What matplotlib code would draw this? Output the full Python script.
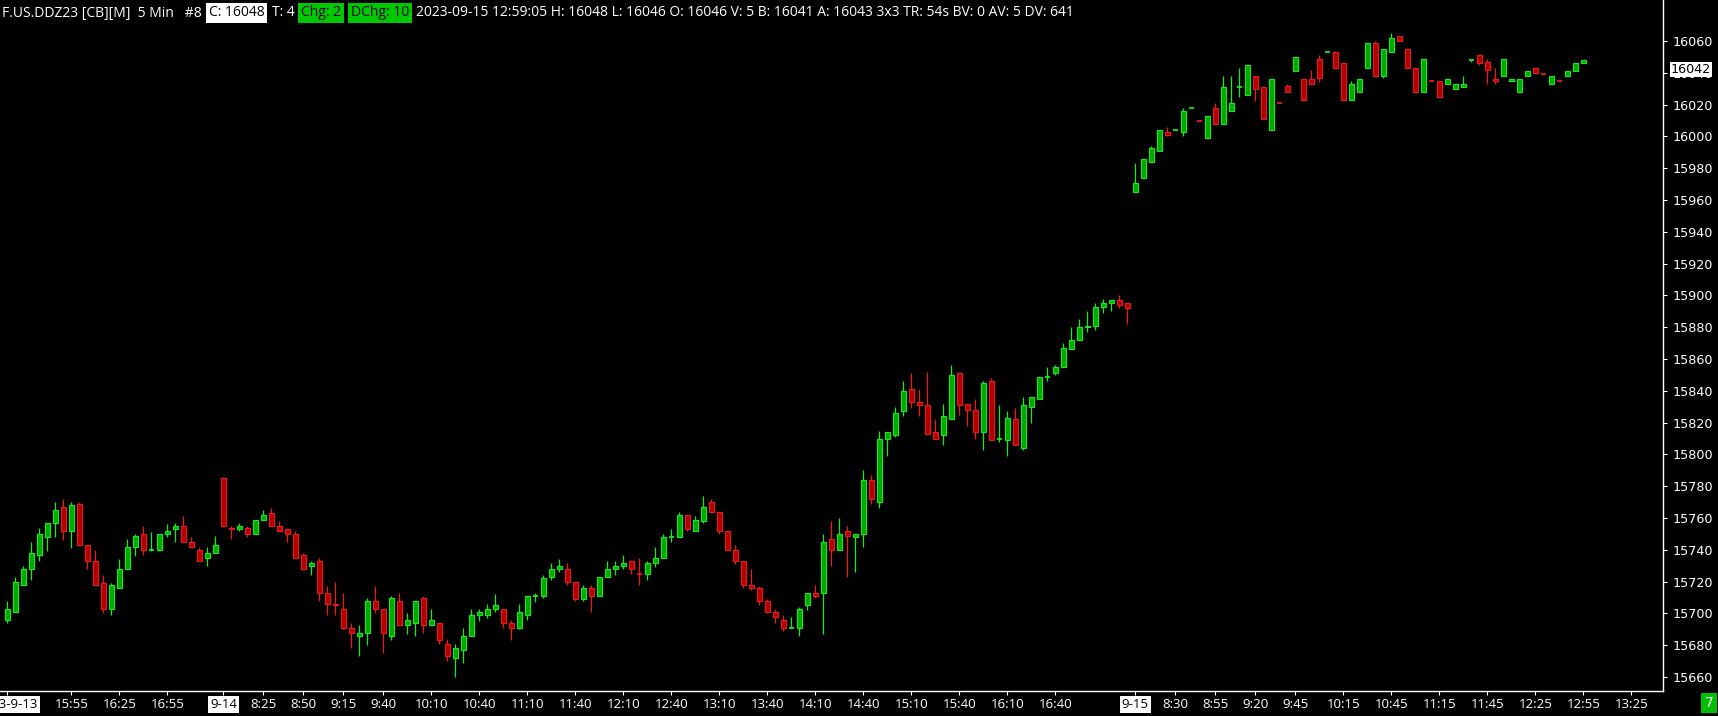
import numpy as np
import matplotlib.pyplot as plt
from matplotlib.transforms import blended_transform_factory

# 5 minute bars of F.US.DDZ23, left to right (3 sessions)
opens = [15696, 15701, 15718, 15728, 15737, 15748, 15757, 15767, 15752, 15769,
         15743, 15733, 15719, 15703, 15716, 15728, 15742, 15750, 15740, 15740,
         15750, 15753, 15755, 15745, 15740, 15735, 15738,
         15785, 15754, 15753, 15754, 15750, 15759, 15763, 15755, 15753, 15750,
         15737, 15730, 15733, 15713, 15706, 15703, 15691, 15686, 15688, 15708,
         15703, 15686, 15708, 15693, 15694, 15710, 15693, 15694, 15681, 15672,
         15677, 15686, 15699, 15699, 15703, 15703, 15694, 15691, 15699, 15711,
         15711, 15723, 15728, 15728, 15720, 15709, 15716, 15711, 15723, 15728,
         15730, 15733, 15725, 15725, 15732, 15735, 15748, 15748, 15762, 15752,
         15758, 15770, 15764, 15752, 15740, 15733, 15718, 15716, 15708, 15701,
         15696, 15691, 15691, 15705, 15713, 15713, 15747, 15740, 15752, 15748,
         15750, 15784, 15770, 15810, 15812, 15827, 15841, 15833, 15831, 15814,
         15812, 15822, 15851, 15832, 15828, 15814, 15846, 15810, 15809, 15822,
         15804, 15830, 15835, 15849, 15851, 15855, 15866, 15872, 15880, 15881,
         15893, 15895, 15897, 15895,
         15965, 15974, 15984, 15991, 16003, 16004, 16003, 16018, 16010, 15999,
         16018, 16008, 16016, 16031, 16026, 16038, 16031, 16004, 16021, 16032,
         16041, 16036, 16036, 16049, 16053, 16053, 16046, 16023, 16028, 16043,
         16059, 16038, 16053, 16063, 16055, 16043, 16028, 16035, 16035, 16033,
         16030, 16031, 16048, 16051, 16047, 16036, 16038, 16035, 16028, 16038,
         16043, 16039, 16033, 16035, 16038, 16041, 16046]
highs = [15708, 15723, 15730, 15745, 15754, 15757, 15770, 15772, 15770, 15770,
         15743, 15740, 15724, 15719, 15734, 15747, 15750, 15755, 15751, 15750,
         15756, 15757, 15761, 15748, 15742, 15742, 15749,
         15786, 15755, 15757, 15755, 15759, 15765, 15766, 15758, 15753, 15752,
         15738, 15733, 15735, 15717, 15720, 15713, 15694, 15693, 15710, 15717,
         15703, 15711, 15713, 15700, 15708, 15711, 15703, 15694, 15684, 15681,
         15691, 15703, 15703, 15706, 15712, 15703, 15696, 15706, 15711, 15713,
         15724, 15732, 15734, 15732, 15720, 15718, 15718, 15723, 15733, 15733,
         15737, 15733, 15735, 15733, 15742, 15750, 15753, 15764, 15762, 15761,
         15774, 15772, 15764, 15752, 15743, 15733, 15728, 15717, 15709, 15703,
         15699, 15698, 15704, 15713, 15718, 15750, 15758, 15760, 15755, 15750,
         15790, 15787, 15815, 15814, 15830, 15846, 15851, 15841, 15852, 15822,
         15832, 15856, 15851, 15832, 15835, 15846, 15848, 15831, 15827, 15829,
         15836, 15836, 15849, 15855, 15856, 15870, 15880, 15885, 15890, 15895,
         15898, 15897, 15900, 15895,
         15983, 15986, 15994, 16004, 16006, 16004, 16018, 16018, 16010, 16013,
         16021, 16038, 16038, 16043, 16045, 16038, 16031, 16036, 16021, 16033,
         16050, 16036, 16042, 16051, 16053, 16054, 16046, 16035, 16036, 16059,
         16060, 16055, 16065, 16063, 16055, 16043, 16049, 16035, 16035, 16036,
         16033, 16038, 16048, 16051, 16049, 16043, 16049, 16036, 16036, 16041,
         16043, 16039, 16038, 16035, 16041, 16046, 16048]
lows = [15694, 15701, 15718, 15721, 15733, 15739, 15748, 15746, 15741, 15743,
        15728, 15718, 15700, 15699, 15716, 15728, 15736, 15737, 15739, 15739,
        15748, 15745, 15745, 15742, 15733, 15730, 15738,
        15755, 15747, 15752, 15748, 15750, 15759, 15755, 15752, 15745, 15735,
        15727, 15724, 15708, 15699, 15699, 15690, 15678, 15673, 15680, 15700,
        15675, 15683, 15693, 15687, 15686, 15688, 15693, 15681, 15670, 15660,
        15669, 15686, 15695, 15697, 15701, 15691, 15683, 15690, 15696, 15707,
        15710, 15721, 15726, 15718, 15708, 15708, 15701, 15711, 15723, 15724,
        15728, 15725, 15718, 15721, 15729, 15735, 15745, 15748, 15752, 15752,
        15757, 15764, 15750, 15740, 15731, 15716, 15715, 15705, 15700, 15694,
        15689, 15691, 15686, 15702, 15710, 15687, 15730, 15740, 15723, 15726,
        15742, 15769, 15766, 15799, 15811, 15824, 15829, 15824, 15813, 15810,
        15806, 15822, 15825, 15818, 15810, 15803, 15809, 15808, 15799, 15806,
        15803, 15820, 15835, 15846, 15850, 15855, 15866, 15872, 15877, 15878,
        15889, 15890, 15892, 15882,
        15965, 15974, 15984, 15991, 16000, 16004, 16000, 16018, 16010, 15999,
        16008, 16008, 16016, 16025, 16026, 16022, 16011, 16004, 16021, 16028,
        16041, 16023, 16033, 16034, 16053, 16043, 16023, 16023, 16028, 16043,
        16038, 16037, 16053, 16060, 16043, 16028, 16028, 16035, 16025, 16033,
        16030, 16031, 16047, 16045, 16033, 16033, 16038, 16035, 16028, 16038,
        16040, 16039, 16033, 16035, 16038, 16041, 16046]
closes = [15703, 15720, 15728, 15738, 15750, 15757, 15765, 15752, 15768, 15743,
          15733, 15718, 15703, 15718, 15728, 15742, 15749, 15740, 15740, 15750,
          15752, 15755, 15745, 15742, 15733, 15738, 15743,
          15755, 15753, 15755, 15750, 15759, 15762, 15755, 15752, 15750, 15735,
          15728, 15732, 15713, 15706, 15705, 15691, 15688, 15688, 15708, 15703,
          15688, 15710, 15693, 15696, 15708, 15693, 15696, 15683, 15673, 15678,
          15686, 15699, 15701, 15703, 15705, 15694, 15691, 15701, 15711, 15711,
          15722, 15728, 15730, 15720, 15709, 15716, 15711, 15723, 15728, 15730,
          15732, 15728, 15725, 15732, 15735, 15748, 15748, 15762, 15753, 15759,
          15767, 15764, 15752, 15740, 15733, 15718, 15716, 15708, 15701, 15698,
          15691, 15691, 15703, 15713, 15711, 15745, 15740, 15750, 15749, 15750,
          15784, 15772, 15810, 15814, 15826, 15840, 15833, 15831, 15813, 15810,
          15824, 15850, 15831, 15828, 15814, 15845, 15809, 15810, 15823, 15806,
          15831, 15836, 15849, 15849, 15855, 15867, 15872, 15880, 15881, 15893,
          15895, 15897, 15894, 15892,
          15971, 15986, 15993, 16004, 16001, 16004, 16016, 16018, 16010, 16013,
          16008, 16031, 16021, 16031, 16045, 16030, 16011, 16036, 16021, 16028,
          16050, 16023, 16033, 16037, 16053, 16043, 16023, 16033, 16036, 16059,
          16038, 16055, 16062, 16060, 16043, 16028, 16049, 16035, 16025, 16036,
          16033, 16033, 16048, 16046, 16042, 16035, 16049, 16036, 16036, 16041,
          16040, 16039, 16038, 16035, 16041, 16046, 16048]

# time axis labels, placed on bar numbers
tick_bars = [0, 8, 14, 20, 27, 32, 37, 42, 47, 53, 59, 65, 71, 77, 83, 89, 95,
             101, 107, 113, 119, 125, 131, 141, 146, 151, 156, 161, 167, 173,
             179, 185, 191, 197, 203]
tick_labels = ['2023-9-13', '15:55', '16:25', '16:55', '9-14', '8:25', '8:50',
               '9:15', '9:40', '10:10', '10:40', '11:10', '11:40', '12:10',
               '12:40', '13:10', '13:40', '14:10', '14:40', '15:10', '15:40',
               '16:10', '16:40', '9-15', '8:30', '8:55', '9:20', '9:45',
               '10:15', '10:45', '11:15', '11:45', '12:25', '12:55', '13:25']
price_ticks = list(range(15660, 16061, 20))
marker_price = 16042
bar_count_left = '7'

header = [
    ('F.US.DDZ23 [CB][M]  5 Min   #8', 'white', None),
    ('C: 16048', 'black', 'white'),
    ('T: 4', 'white', None),
    ('Chg: 2', 'black', '#00c800'),
    ('DChg: 10', 'black', '#00c800'),
    ('2023-09-15 12:59:05 H: 16048 L: 16046 O: 16046 V: 5 B: 16041 '
     'A: 16043 3x3 TR: 54s BV: 0 AV: 5 DV: 641', 'white', None),
]

W, H = 1718, 716
fig = plt.figure(figsize=(W / 100, H / 100), dpi=100, facecolor='black')
ax = fig.add_axes([0, 1 - 690.7 / H, 1663 / W, 690.7 / H], facecolor='black')

o, h, l, c = (np.array(a, dtype=float) for a in (opens, highs, lows, closes))
x = np.arange(len(o))
prev = np.r_[o[0], c[:-1]]
up = (c > o) | ((c == o) & (c >= prev))

g_edge, g_face = '#14ee14', '#00aa00'
r_edge, r_face = '#f01818', '#b00000'
edge = np.where(up, g_edge, r_edge)
face = np.where(up, g_face, r_face)

ax.vlines(x, l, h, colors=edge, lw=0.9, zorder=2)
body = c != o
ax.bar(x[body], (c - o)[body], bottom=o[body], width=0.58,
       color=face[body], edgecolor=edge[body], linewidth=0.8, zorder=3)
flat = ~body
ax.hlines(c[flat], x[flat] - 0.32, x[flat] + 0.32, colors=edge[flat],
          lw=1.3, zorder=3)

ax.set_xlim(-0.917, 206.96)
ax.set_ylim(15651.4, 16085.8)

for side in ('top', 'left'):
    ax.spines[side].set_visible(False)
for side in ('right', 'bottom'):
    ax.spines[side].set_color('white')
    ax.spines[side].set_linewidth(1)

ax.yaxis.tick_right()
ax.set_yticks(price_ticks)
ax.set_yticklabels([str(p) for p in price_ticks])
ax.tick_params(axis='y', colors='white', length=3, width=0.8, pad=4,
               labelsize=9.2, labelcolor='white')
for t in ax.get_yticklabels():
    t.set_family('DejaVu Sans')

ax.set_xticks(tick_bars)
ax.set_xticklabels(tick_labels)
ax.tick_params(axis='x', colors='white', length=3, width=0.8, pad=2.5,
               labelsize=9.5, labelcolor='white')
for t in ax.get_xticklabels():
    t.set_family('Open Sans')
    if '-' in t.get_text():
        t.set_color('black')
        t.set_bbox(dict(boxstyle='square,pad=0.15', fc='white', ec='none'))

# current price marker on the price scale
tr = blended_transform_factory(ax.transAxes, ax.transData)
ax.text(1 + 8 / 1663, marker_price, str(marker_price), transform=tr,
        ha='left', va='center', fontsize=9.2, family='DejaVu Sans',
        color='black', clip_on=False,
        bbox=dict(boxstyle='square,pad=0.08', fc='white', ec='none'))

fig.text(1 - 9 / W, 1 - 703 / H, bar_count_left, ha='center', va='center',
         fontsize=10, color='white', family='DejaVu Sans',
         bbox=dict(boxstyle='square,pad=0.25', fc='#00c000', ec='none'))

# header line, segments placed one after another
renderer = fig.canvas.get_renderer()
xpos = 2
prev_boxed = False
for text, fg, bg in header:
    if bg:
        xpos += 3
    kw = dict(fontsize=10.0, family='Open Sans', color=fg, ha='left',
              va='center')
    if bg:
        kw['bbox'] = dict(boxstyle='square,pad=0.2', fc=bg, ec='none')
    t = fig.text(xpos / W, 1 - 13 / H, text, **kw)
    bb = t.get_window_extent(renderer)
    xpos = bb.x1 + 4 + (3 if bg else 0)

fig.savefig('out.png', dpi=100, facecolor='black')
